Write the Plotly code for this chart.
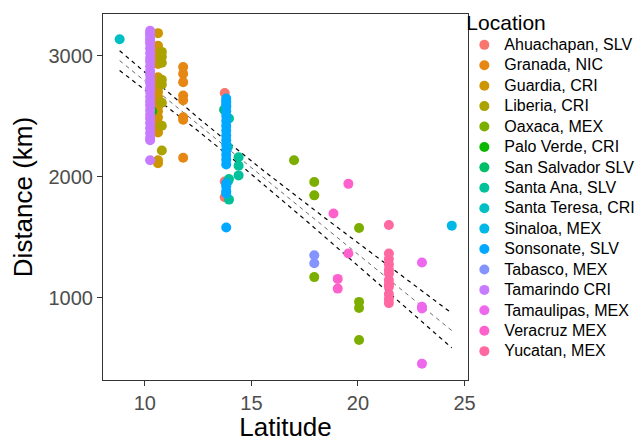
import numpy as np
import plotly.graph_objects as go

locations = ["Ahuachapan, SLV", "Granada, NIC", "Guardia, CRI", "Liberia, CRI", "Oaxaca, MEX",
             "Palo Verde, CRI", "San Salvador SLV", "Santa Ana, SLV", "Santa Teresa, CRI",
             "Sinaloa, MEX", "Sonsonate, SLV", "Tabasco, MEX", "Tamarindo CRI",
             "Tamaulipas, MEX", "Veracruz MEX", "Yucatan, MEX"]
colors = ["#F8766D", "#E68613", "#CD9600", "#ABA300", "#7CAE00", "#0CB702", "#00BE67", "#00C19A",
          "#00BFC4", "#00B8E7", "#00A9FF", "#8494FF", "#C77CFF", "#ED68ED", "#FF61CC", "#FF68A1"]

# latitude / distance (km) per location
lat_ahuachapan = [13.75, 13.75, 13.75]
dist_ahuachapan = [2690, 1960, 1830]

lat_granada = [11.8, 11.8, 11.8, 11.8, 11.8, 11.8, 11.8, 11.8]
dist_granada = [2905, 2850, 2780, 2670, 2630, 2490, 2470, 2155]

lat_guardia = [10.62] * 20
dist_guardia = [3185, 3080, 3020, 2990, 2960, 2930, 2820, 2780, 2740, 2700,
                2660, 2620, 2580, 2540, 2490, 2440, 2400, 2365, 2135, 2110]

lat_liberia = [10.8] * 8
dist_liberia = [3030, 2990, 2940, 2800, 2760, 2610, 2420, 2215]

lat_oaxaca = [17.0, 17.95, 17.95, 17.95, 20.05, 20.05, 20.05, 20.05]
dist_oaxaca = [2135, 1955, 1845, 1170, 1575, 965, 915, 650]

lat_paloverde = [10.35]
dist_paloverde = [2540]

lat_sansalvador = [13.72]
dist_sansalvador = [2552]

lat_santaana = [13.95, 13.9, 14.4, 14.4, 14.4, 13.95, 13.9, 13.95]
dist_santaana = [2480, 2245, 2160, 2090, 2010, 1980, 1960, 1810]

lat_santateresa = [8.82]
dist_santateresa = [3135]

lat_sinaloa = [24.4]
dist_sinaloa = [1595]

lat_sonsonate = [13.82] * 22
dist_sonsonate = [2645, 2625, 2610, 2590, 2575, 2540, 2500, 2460, 2420, 2380, 2340,
                  2300, 2260, 2220, 2180, 2140, 2100, 1945, 1920, 1880, 1860, 1580]

lat_tabasco = [17.95, 17.95]
dist_tabasco = [1350, 1285]

lat_tamarindo = [10.25] * 29
dist_tamarindo = [3205, 3185, 3170, 3140, 3120, 3100, 3060, 3020, 2980, 2950, 2910,
                  2870, 2840, 2800, 2770, 2730, 2700, 2660, 2620, 2590, 2550,
                  2510, 2480, 2440, 2400, 2360, 2320, 2300, 2135]

lat_tamaulipas = [23.0, 23.0, 23.0, 23.0]
dist_tamaulipas = [1290, 925, 910, 455]

lat_veracruz = [19.55, 18.85, 19.55, 19.05, 19.05]
dist_veracruz = [1940, 1695, 1365, 1155, 1075]

lat_yucatan = [21.45] * 12
dist_yucatan = [1600, 1365, 1320, 1275, 1230, 1200, 1145, 1110, 1090, 1030, 990, 955]

lats = [lat_ahuachapan, lat_granada, lat_guardia, lat_liberia, lat_oaxaca, lat_paloverde,
        lat_sansalvador, lat_santaana, lat_santateresa, lat_sinaloa, lat_sonsonate,
        lat_tabasco, lat_tamarindo, lat_tamaulipas, lat_veracruz, lat_yucatan]
dists = [dist_ahuachapan, dist_granada, dist_guardia, dist_liberia, dist_oaxaca, dist_paloverde,
         dist_sansalvador, dist_santaana, dist_santateresa, dist_sinaloa, dist_sonsonate,
         dist_tabasco, dist_tamarindo, dist_tamaulipas, dist_veracruz, dist_yucatan]

fig = go.Figure()

# linear fit with 95% confidence band, computed from the data
all_x = np.concatenate([np.array(v, float) for v in lats])
all_y = np.concatenate([np.array(v, float) for v in dists])
n = len(all_x)
b1, b0 = np.polyfit(all_x, all_y, 1)
resid = all_y - (b0 + b1 * all_x)
s = np.sqrt(np.sum(resid ** 2) / (n - 2))
xm = all_x.mean()
sxx = np.sum((all_x - xm) ** 2)
xs = np.linspace(all_x.min(), all_x.max(), 80)
yfit = b0 + b1 * xs
se = s * np.sqrt(1.0 / n + (xs - xm) ** 2 / sxx)
t = 1.98
for yy, w, c in [(yfit + t * se, 1.2, "#000000"), (yfit, 0.8, "#444444"), (yfit - t * se, 1.2, "#000000")]:
    fig.add_trace(go.Scatter(x=xs, y=yy, mode="lines", showlegend=False, hoverinfo="skip",
                             line=dict(color=c, width=w, dash="4px,4px")))

for loc, col, x, y in zip(locations, colors, lats, dists):
    fig.add_trace(go.Scatter(
        x=x, y=y, mode="markers",
        name="<span style='font-size:16px'>" + loc + "</span>",
        marker=dict(color=col, size=10, line=dict(width=0)),
    ))

axis_common = dict(
    showline=True, linecolor="#333333", linewidth=1.2, mirror=True,
    ticks="outside", ticklen=5, tickcolor="#333333", tickwidth=1.2,
    showgrid=False, zeroline=False,
    tickfont=dict(size=20, color="#4D4D4D"),
)

# the page adds an 8px body margin, so the figure is drawn 8px smaller
fig.update_layout(
    width=635, height=434,
    margin=dict(l=95, r=175, t=6, b=62, autoexpand=False),
    paper_bgcolor="white", plot_bgcolor="white",
    font=dict(family="Liberation Sans, Arial, sans-serif", color="black"),
    xaxis=dict(range=[8.04, 25.16], tickvals=[10, 15, 20, 25],
               title=dict(text="Latitude", font=dict(size=26), standoff=3), **axis_common),
    yaxis=dict(range=[320, 3343], tickvals=[1000, 2000, 3000],
               title=dict(text="Distance (km)", font=dict(size=26), standoff=10), **axis_common),
    legend=dict(
        x=0.99, xanchor="left", y=1.023, yanchor="top",
        title=dict(text="<span style='font-size:21px'>Location</span>", font=dict(size=18.5)),
        font=dict(size=13.4, color="black"),
        bgcolor="rgba(0,0,0,0)", borderwidth=0,
        tracegroupgap=0, maxheight=430, entrywidth=140,
    ),
)

fig.write_html("out.html")
